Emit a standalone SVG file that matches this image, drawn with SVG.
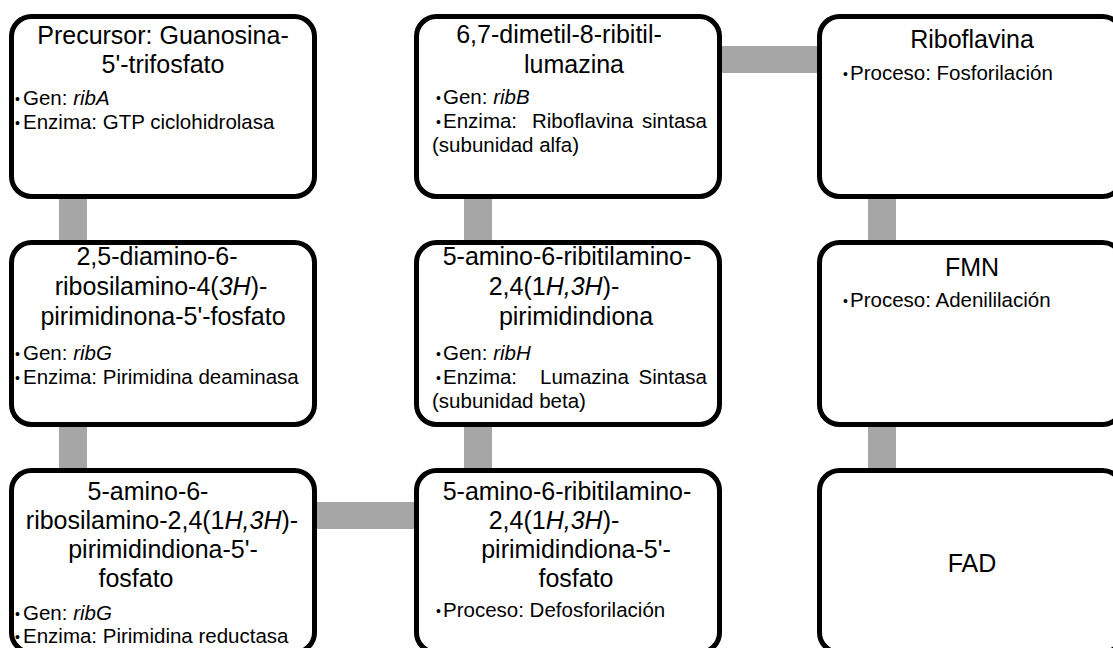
<svg xmlns="http://www.w3.org/2000/svg" width="1113" height="648" viewBox="0 0 1113 648">
<style>
.box{fill:#fff;stroke:#000;stroke-width:5}
.con{fill:#a6a6a6}
.t{font-family:"Liberation Sans",Arial,sans-serif;font-size:25px;fill:#000;text-anchor:middle}
.b{font-family:"Liberation Sans",Arial,sans-serif;font-size:20.5px;fill:#000}
.d{font-family:"Liberation Sans",Arial,sans-serif;font-size:14px;fill:#000}
.i{font-style:italic}
</style>
<rect width="1113" height="648" fill="#fff"/>
<g id="connectors">
<rect class="con" x="59" y="195" width="28" height="50"/>
<rect class="con" x="59" y="422" width="28" height="50"/>
<rect class="con" x="464" y="195" width="28" height="50"/>
<rect class="con" x="464" y="422" width="28" height="50"/>
<rect class="con" x="868" y="195" width="28" height="50"/>
<rect class="con" x="868" y="422" width="28" height="50"/>
<rect class="con" x="715" y="46" width="108" height="27"/>
<rect class="con" x="312" y="502" width="108" height="27"/>
</g>
<g id="n1">
<rect class="box" x="11.5" y="16.5" width="303" height="180" rx="20"/>
<text class="t" x="163" y="44">Precursor: Guanosina-</text>
<text class="t" x="163" y="73">5'-trifosfato</text>
<text class="d" x="15" y="104">•</text><text class="b" x="23" y="105">Gen: <tspan class="i">ribA</tspan></text>
<text class="d" x="15" y="128">•</text><text class="b" x="23" y="129">Enzima: GTP ciclohidrolasa</text>
</g>
<g id="n2">
<rect class="box" x="11.5" y="242.5" width="303" height="182" rx="20"/>
<text class="t" x="157" y="265">2,5-diamino-6-</text>
<text class="t" x="161" y="295">ribosilamino-4(<tspan class="i">3H</tspan>)-</text>
<text class="t" x="163" y="325">pirimidinona-5'-fosfato</text>
<text class="d" x="15" y="359">•</text><text class="b" x="23" y="360">Gen: <tspan class="i">ribG</tspan></text>
<text class="d" x="15" y="383">•</text><text class="b" x="23" y="384">Enzima: Pirimidina deaminasa</text>
</g>
<g id="n3">
<rect class="box" x="11.5" y="470.5" width="303" height="182" rx="20"/>
<text class="t" x="148" y="500">5-amino-6-</text>
<text class="t" x="162" y="529">ribosilamino-2,4(1<tspan class="i">H,3H</tspan>)-</text>
<text class="t" x="163" y="558">pirimidindiona-5'-</text>
<text class="t" x="136" y="587">fosfato</text>
<text class="d" x="15" y="619">•</text><text class="b" x="23" y="620">Gen: <tspan class="i">ribG</tspan></text>
<text class="d" x="15" y="642">•</text><text class="b" x="23" y="643">Enzima: Pirimidina reductasa</text>
</g>
<g id="n4">
<rect class="box" x="416.5" y="470.5" width="303" height="182" rx="20"/>
<text class="t" x="567" y="500">5-amino-6-ribitilamino-</text>
<text class="t" x="554" y="529">2,4(1<tspan class="i">H,3H</tspan>)-</text>
<text class="t" x="576" y="558">pirimidindiona-5'-</text>
<text class="t" x="576" y="587">fosfato</text>
<text class="d" x="436" y="616">•</text><text class="b" x="443" y="617">Proceso: Defosforilación</text>
</g>
<g id="n5">
<rect class="box" x="416.5" y="242.5" width="303" height="182" rx="20"/>
<text class="t" x="567" y="265">5-amino-6-ribitilamino-</text>
<text class="t" x="554" y="295">2,4(1<tspan class="i">H,3H</tspan>)-</text>
<text class="t" x="576" y="325">pirimidindiona</text>
<text class="d" x="436" y="359">•</text><text class="b" x="443" y="360">Gen: <tspan class="i">ribH</tspan></text>
<text class="d" x="436" y="383">•</text><text class="b" x="443" y="384">Enzima:</text>
<text class="b" x="540" y="384">Lumazina</text>
<text class="b" x="707" y="384" text-anchor="end">Sintasa</text>
<text class="b" x="432" y="408">(subunidad beta)</text>
</g>
<g id="n6">
<rect class="box" x="416.5" y="16.5" width="303" height="180" rx="20"/>
<text class="t" x="559" y="43">6,7-dimetil-8-ribitil-</text>
<text class="t" x="574" y="73">lumazina</text>
<text class="d" x="436" y="103">•</text><text class="b" x="443" y="104">Gen: <tspan class="i">ribB</tspan></text>
<text class="d" x="436" y="127">•</text><text class="b" x="443" y="128">Enzima:</text>
<text class="b" x="532" y="128">Riboflavina</text>
<text class="b" x="707" y="128" text-anchor="end">sintasa</text>
<text class="b" x="432" y="152">(subunidad alfa)</text>
</g>
<g id="n7">
<rect class="box" x="819.5" y="16.5" width="303" height="180" rx="20"/>
<text class="t" x="972" y="48">Riboflavina</text>
<text class="d" x="843" y="79">•</text><text class="b" x="850" y="80">Proceso: Fosforilación</text>
</g>
<g id="n8">
<rect class="box" x="819.5" y="242.5" width="303" height="182" rx="20"/>
<text class="t" x="972" y="276">FMN</text>
<text class="d" x="843" y="306">•</text><text class="b" x="850" y="307">Proceso: Adenililación</text>
</g>
<g id="n9">
<rect class="box" x="819.5" y="470.5" width="303" height="182" rx="20"/>
<text class="t" x="972" y="572">FAD</text>
</g>
</svg>
